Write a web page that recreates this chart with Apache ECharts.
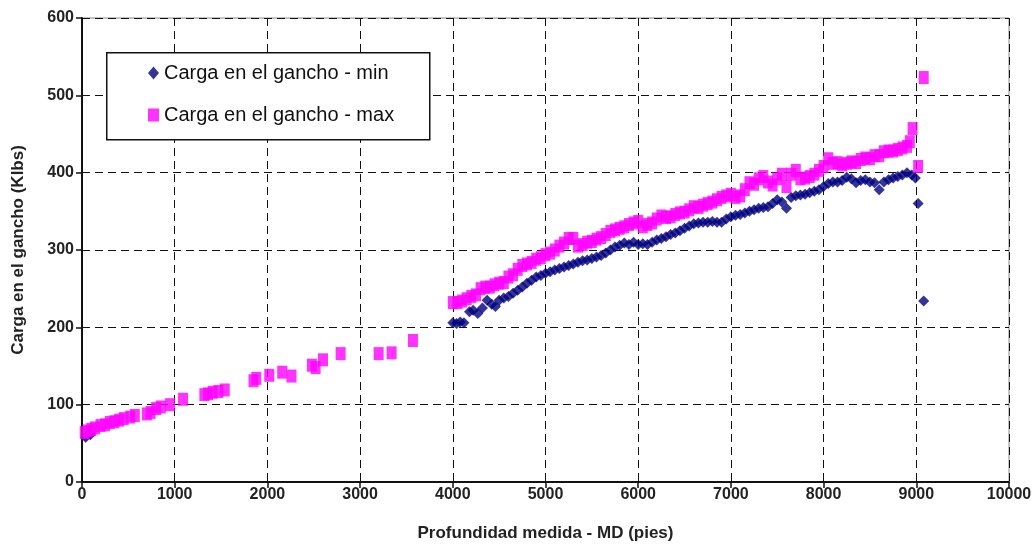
<!DOCTYPE html>
<html>
<head>
<meta charset="utf-8">
<title>Carga en el gancho</title>
<script src="https://cdn.jsdelivr.net/npm/echarts@6/dist/echarts.min.js"></script>
<style>
  html, body { margin: 0; padding: 0; background: #fff; }
  #chart { width: 1036px; height: 545px; }
</style>
</head>
<body>
<div id="chart"></div>
<script>
// axis ticks
var xTicks = [0, 1000, 2000, 3000, 4000, 5000, 6000, 7000, 8000, 9000, 10000]
var yTicks = [0, 100, 200, 300, 400, 500, 600]

// [MD (pies), carga (Klbs)]
var cargaMin = [
  [40, 58], [90, 61],
  [4000, 206], [4040, 205], [4080, 207], [4120, 206], [4180, 220], [4220, 222], [4270, 218], [4320, 225],
  [4370, 235], [4420, 230], [4460, 227], [4500, 235], [4550, 238], [4600, 240], [4650, 244], [4700, 248],
  [4750, 252], [4800, 257], [4850, 261], [4900, 265], [4950, 267], [5000, 270], [5050, 272], [5100, 274],
  [5150, 276], [5200, 278], [5250, 280], [5300, 282], [5350, 284], [5400, 286], [5450, 287], [5500, 289],
  [5550, 291], [5600, 293], [5650, 296], [5700, 300], [5750, 304], [5800, 306], [5850, 309], [5900, 307],
  [5950, 310], [6000, 307], [6050, 308], [6100, 307], [6150, 310], [6200, 313], [6250, 315], [6300, 317],
  [6350, 320], [6400, 322], [6450, 325], [6500, 328], [6550, 331], [6600, 334], [6650, 335], [6700, 336],
  [6750, 336], [6800, 337], [6850, 336], [6900, 336], [6950, 340], [7000, 343], [7050, 345], [7100, 346],
  [7150, 348], [7200, 350], [7250, 352], [7300, 354], [7350, 355], [7400, 356], [7450, 360], [7500, 365],
  [7550, 362], [7600, 354], [7650, 368], [7700, 370], [7750, 371], [7800, 372], [7850, 374], [7900, 376],
  [7950, 378], [8000, 382], [8050, 386], [8100, 388], [8150, 388], [8200, 390], [8250, 394], [8300, 392],
  [8350, 387], [8400, 390], [8450, 391], [8500, 388], [8550, 387], [8600, 378], [8650, 388], [8700, 391],
  [8750, 393], [8800, 395], [8850, 397], [8900, 400], [8950, 397], [8990, 393], [9020, 360], [9080, 234]
]

var cargaMax = [
  [30, 64], [60, 66], [100, 68], [140, 70], [200, 73], [250, 74], [300, 77], [350, 78], [400, 80],
  [450, 82], [520, 84], [570, 86], [700, 88], [740, 90], [800, 95], [850, 97], [950, 100], [1090, 107],
  [1320, 113], [1360, 114], [1410, 116], [1470, 117], [1540, 119], [1850, 131], [1880, 134], [2020, 138],
  [2160, 142], [2260, 137], [2480, 151], [2520, 148], [2600, 158], [2790, 166], [3200, 166], [3340, 167],
  [3570, 183],
  [4000, 232], [4050, 232], [4100, 234], [4150, 237], [4200, 240], [4250, 242], [4300, 250], [4350, 252],
  [4400, 252], [4450, 255], [4500, 257], [4550, 258], [4600, 265], [4650, 268], [4700, 275], [4750, 280],
  [4800, 282], [4850, 284], [4900, 288], [4950, 290], [5000, 294], [5050, 296], [5100, 300], [5150, 305],
  [5200, 309], [5250, 315], [5300, 315], [5350, 305], [5400, 307], [5450, 310], [5500, 311], [5550, 314],
  [5600, 316], [5650, 320], [5700, 324], [5750, 326], [5800, 328], [5850, 330], [5900, 333], [5950, 335],
  [6000, 337], [6050, 330], [6100, 333], [6150, 335], [6200, 340], [6250, 344], [6300, 342], [6350, 343],
  [6400, 346], [6450, 348], [6500, 349], [6550, 352], [6600, 356], [6650, 355], [6700, 358], [6750, 360],
  [6800, 362], [6850, 365], [6900, 368], [6950, 370], [7000, 372], [7050, 368], [7100, 370], [7150, 378],
  [7200, 387], [7250, 385], [7300, 392], [7350, 395], [7400, 388], [7450, 384], [7500, 392], [7550, 398],
  [7600, 382], [7650, 398], [7700, 403], [7750, 392], [7800, 393], [7850, 395], [7900, 398], [7950, 403],
  [8000, 408], [8050, 418], [8100, 412], [8150, 413], [8200, 410], [8250, 412], [8300, 414], [8350, 413],
  [8400, 417], [8450, 419], [8500, 418], [8550, 422], [8600, 422], [8650, 427], [8700, 428], [8750, 428],
  [8800, 430], [8850, 432], [8900, 434], [8930, 440], [8960, 457], [9020, 408], [9080, 523]
]

var chart = echarts.init(document.getElementById('chart'))
var font = 'Liberation Sans, Arial, sans-serif'

var option = {
  animation: false,
  backgroundColor: '#fff',
  textStyle: { fontFamily: font },
  grid: {
    left: 82,
    right: 27,
    top: 18,
    bottom: 63,
    outerBoundsMode: 'none',
    containLabel: false,
    show: true,
    borderColor: '#8a8a8a',
    borderWidth: 1
  },
  // legend frame
  graphic: [{
    type: 'rect',
    left: 106,
    top: 52,
    z: 3,
    shape: { width: 323, height: 87 },
    style: { fill: '#fff', stroke: '#111', lineWidth: 1.5 }
  }],
  legend: {
    orient: 'vertical',
    left: 148,
    top: 62,
    padding: 0,
    itemGap: 20,
    itemWidth: 11,
    itemHeight: 13,
    z: 5,
    textStyle: {
      fontFamily: font,
      fontSize: 20,
      lineHeight: 22,
      color: '#111'
    },
    data: [
      { name: 'Carga en el gancho - min', icon: 'diamond' },
      { name: 'Carga en el gancho - max', icon: 'rect' }
    ]
  },
  xAxis: {
    type: 'value',
    min: xTicks[0],
    max: xTicks[xTicks.length - 1],
    interval: 1000,
    name: 'Profundidad medida - MD (pies)',
    nameLocation: 'middle',
    nameGap: 43,
    nameTextStyle: { fontFamily: font, fontSize: 17, fontWeight: 'bold', color: '#222' },
    axisLine: { onZero: false, lineStyle: { color: '#111', width: 2 } },
    axisTick: { show: true, length: 6, lineStyle: { color: '#111', width: 1.5 } },
    axisLabel: {
      fontFamily: font, fontSize: 16, fontWeight: 'bold', color: '#222', margin: 5,
      formatter: function (v) { return String(v) }
    },
    splitLine: { show: true, lineStyle: { color: '#111', width: 1, type: [8, 5] } }
  },
  yAxis: {
    type: 'value',
    min: yTicks[0],
    max: yTicks[yTicks.length - 1],
    interval: 100,
    name: 'Carga en el gancho (Klbs)',
    nameLocation: 'middle',
    nameGap: 55,
    nameTextStyle: { fontFamily: font, fontSize: 17, fontWeight: 'bold', color: '#222' },
    axisLine: { onZero: false, lineStyle: { color: '#111', width: 2 } },
    axisTick: { show: true, length: 6, lineStyle: { color: '#111', width: 1.5 } },
    axisLabel: {
      fontFamily: font, fontSize: 16, fontWeight: 'bold', color: '#222', margin: 8,
      formatter: function (v) { return String(v) }
    },
    splitLine: { show: true, lineStyle: { color: '#111', width: 1, type: [8, 5] } }
  },
  series: [
    {
      name: 'Carga en el gancho - min',
      type: 'scatter',
      symbol: 'diamond',
      symbolSize: [11, 11],
      itemStyle: { color: '#000080' },
      data: cargaMin
    },
    {
      name: 'Carga en el gancho - max',
      type: 'scatter',
      symbol: 'rect',
      symbolSize: [10, 13],
      itemStyle: { color: '#ff00ff' },
      data: cargaMax
    }
  ]
}

chart.setOption(option)
</script>
</body>
</html>
